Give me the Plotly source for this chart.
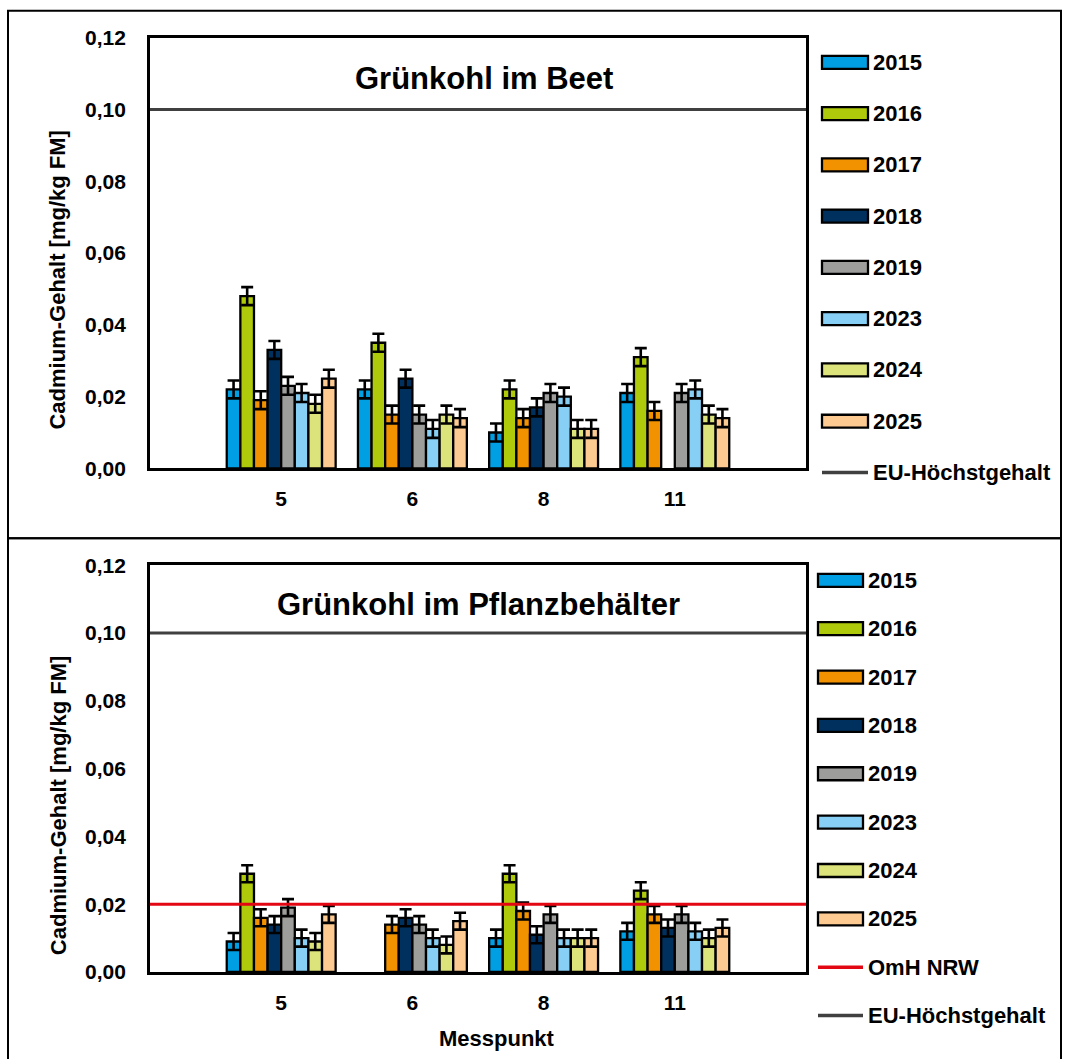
import plotly.graph_objects as go

# ---------------- data ----------------
categories = ["5", "6", "8", "11"]
years = ["2015", "2016", "2017", "2018", "2019", "2023", "2024", "2025"]
colors = ["#009FE3", "#AFCA0B", "#F39200", "#00305E", "#9D9D9C", "#87CFF4", "#DCE37A", "#FDCA92"]

# Grünkohl im Beet
beet_2015 = [0.022, 0.022, 0.010, 0.021]
beet_2016 = [0.048, 0.035, 0.022, 0.031]
beet_2017 = [0.019, 0.015, 0.014, 0.016]
beet_2018 = [0.033, 0.025, 0.017, None]
beet_2019 = [0.023, 0.015, 0.021, 0.021]
beet_2023 = [0.021, 0.011, 0.020, 0.022]
beet_2024 = [0.018, 0.015, 0.011, 0.015]
beet_2025 = [0.025, 0.014, 0.011, 0.014]

# Grünkohl im Pflanzbehälter
pfl_2015 = [0.009, None, 0.010, 0.012]
pfl_2016 = [0.029, None, 0.029, 0.024]
pfl_2017 = [0.016, 0.014, 0.018, 0.017]
pfl_2018 = [0.014, 0.016, 0.011, 0.013]
pfl_2019 = [0.019, 0.014, 0.017, 0.017]
pfl_2023 = [0.010, 0.010, 0.010, 0.012]
pfl_2024 = [0.009, 0.008, 0.010, 0.010]
pfl_2025 = [0.017, 0.015, 0.010, 0.013]

error_value = 0.0025
eu_limit = 0.10          # EU-Höchstgehalt
omh_nrw = 0.02           # OmH NRW
y_ticks = [0.00, 0.02, 0.04, 0.06, 0.08, 0.10, 0.12]

beet_series = [beet_2015, beet_2016, beet_2017, beet_2018, beet_2019, beet_2023, beet_2024, beet_2025]
pfl_series = [pfl_2015, pfl_2016, pfl_2017, pfl_2018, pfl_2019, pfl_2023, pfl_2024, pfl_2025]

# ---------------- layout helpers (pixels -> paper) ----------------
W, H = 1065, 1059
FONT = "Liberation Sans, Arial, sans-serif"
V_CENTER, V_SCALE = 537.0, 0.979   # correction for vertical placement


def px(x):
    return x / W


def py(y):
    y_in = V_CENTER + (y - V_CENTER) / V_SCALE
    return 1 - y_in / H


x_idx = list(range(len(categories)))
x_range = [-1, len(categories)]

fig = go.Figure()

for series_set, xa, ya in [(beet_series, "x", "y"), (pfl_series, "x2", "y2")]:
    for yr, col, vals in zip(years, colors, series_set):
        fig.add_trace(go.Bar(
            x=x_idx, y=vals, name=yr, xaxis=xa, yaxis=ya,
            marker=dict(color=col, line=dict(color="black", width=2.3)),
            error_y=dict(type="constant", value=error_value, color="black",
                         thickness=2.6, width=6),
            showlegend=False,
        ))

# reference lines
fig.add_trace(go.Scatter(x=x_range, y=[eu_limit, eu_limit], mode="lines",
                         line=dict(color="#404040", width=3), xaxis="x", yaxis="y",
                         name="EU-Höchstgehalt", showlegend=False))
fig.add_trace(go.Scatter(x=x_range, y=[omh_nrw, omh_nrw], mode="lines",
                         line=dict(color="#E30613", width=3), xaxis="x2", yaxis="y2",
                         name="OmH NRW", showlegend=False))
fig.add_trace(go.Scatter(x=x_range, y=[eu_limit, eu_limit], mode="lines",
                         line=dict(color="#404040", width=3), xaxis="x2", yaxis="y2",
                         name="EU-Höchstgehalt", showlegend=False))

xdom = [px(150), px(806)]
tickfont = dict(family=FONT, size=21, color="black", weight="bold")
axis_common = dict(showline=True, linecolor="black", linewidth=2.8, mirror=True,
                   showgrid=False, zeroline=False, tickfont=tickfont)
xaxis_common = dict(axis_common, range=x_range, tickvals=x_idx, ticktext=categories,
                    ticks="outside", ticklen=10, tickcolor="rgba(0,0,0,0)")
yaxis_common = dict(axis_common, range=[0, 0.12], tickvals=y_ticks, tickformat=".2f",
                    ticks="outside", ticklen=17, tickcolor="rgba(0,0,0,0)")

fig.update_layout(
    width=W, height=H,
    margin=dict(l=0, r=0, t=0, b=0),
    paper_bgcolor="white", plot_bgcolor="white",
    separators=",.",
    barmode="group", bargap=0.17, bargroupgap=0,
    font=dict(family=FONT, color="black"),
    xaxis=dict(xaxis_common, domain=xdom, anchor="y"),
    yaxis=dict(yaxis_common, domain=[py(468), py(37)], anchor="x"),
    xaxis2=dict(xaxis_common, domain=xdom, anchor="y2"),
    yaxis2=dict(yaxis_common, domain=[py(972), py(565)], anchor="x2"),
)

shapes = []
annotations = []

# outer panel frames
shapes.append(dict(type="rect", xref="paper", yref="paper", x0=px(8), x1=px(1061),
                   y0=py(538), y1=py(10), line=dict(color="black", width=2)))
shapes.append(dict(type="rect", xref="paper", yref="paper", x0=px(8), x1=px(1061),
                   y0=py(1100), y1=py(538), line=dict(color="black", width=2)))


def text(label, x, y, size, angle=0, xanchor="center"):
    annotations.append(dict(text="<b>%s</b>" % label, x=px(x), y=py(y),
                            xref="paper", yref="paper", showarrow=False,
                            xanchor=xanchor, yanchor="middle", textangle=angle,
                            font=dict(family=FONT, size=size, color="black")))


# titles
text("Grünkohl im Beet", 484, 78, 31)
text("Grünkohl im Pflanzbehälter", 478, 604, 31)
# axis titles
text("Cadmium-Gehalt [mg/kg FM]", 58, 280, 22, angle=-90)
text("Cadmium-Gehalt [mg/kg FM]", 58, 806, 22, angle=-90)
text("Messpunkt", 497, 1039, 22)


def legend(entries, y0, step, sx0, sx1, tx):
    for i, (label, kind, col) in enumerate(entries):
        yc = y0 + i * step
        if kind == "bar":
            shapes.append(dict(type="rect", xref="paper", yref="paper",
                               x0=px(sx0), x1=px(sx1), y0=py(yc + 6.5), y1=py(yc - 6.5),
                               fillcolor=col, line=dict(color="black", width=2.3)))
        else:
            shapes.append(dict(type="line", xref="paper", yref="paper",
                               x0=px(sx0), x1=px(sx1), y0=py(yc), y1=py(yc),
                               line=dict(color=col, width=3.5)))
        text(label, tx, yc, 22, xanchor="left")


top_entries = [(y, "bar", c) for y, c in zip(years, colors)] + [("EU-Höchstgehalt", "line", "#404040")]
bot_entries = [(y, "bar", c) for y, c in zip(years, colors)] + [("OmH NRW", "line", "#E30613"),
                                                                ("EU-Höchstgehalt", "line", "#404040")]
legend(top_entries, 61.7, 51.3, 822, 868, 871)
legend(bot_entries, 580, 48.4, 818, 863, 866)

fig.update_layout(shapes=shapes, annotations=annotations)

fig.write_html("out.html", config={"displayModeBar": False},
               post_script="document.body.style.margin='0';document.body.style.overflow='hidden';")
